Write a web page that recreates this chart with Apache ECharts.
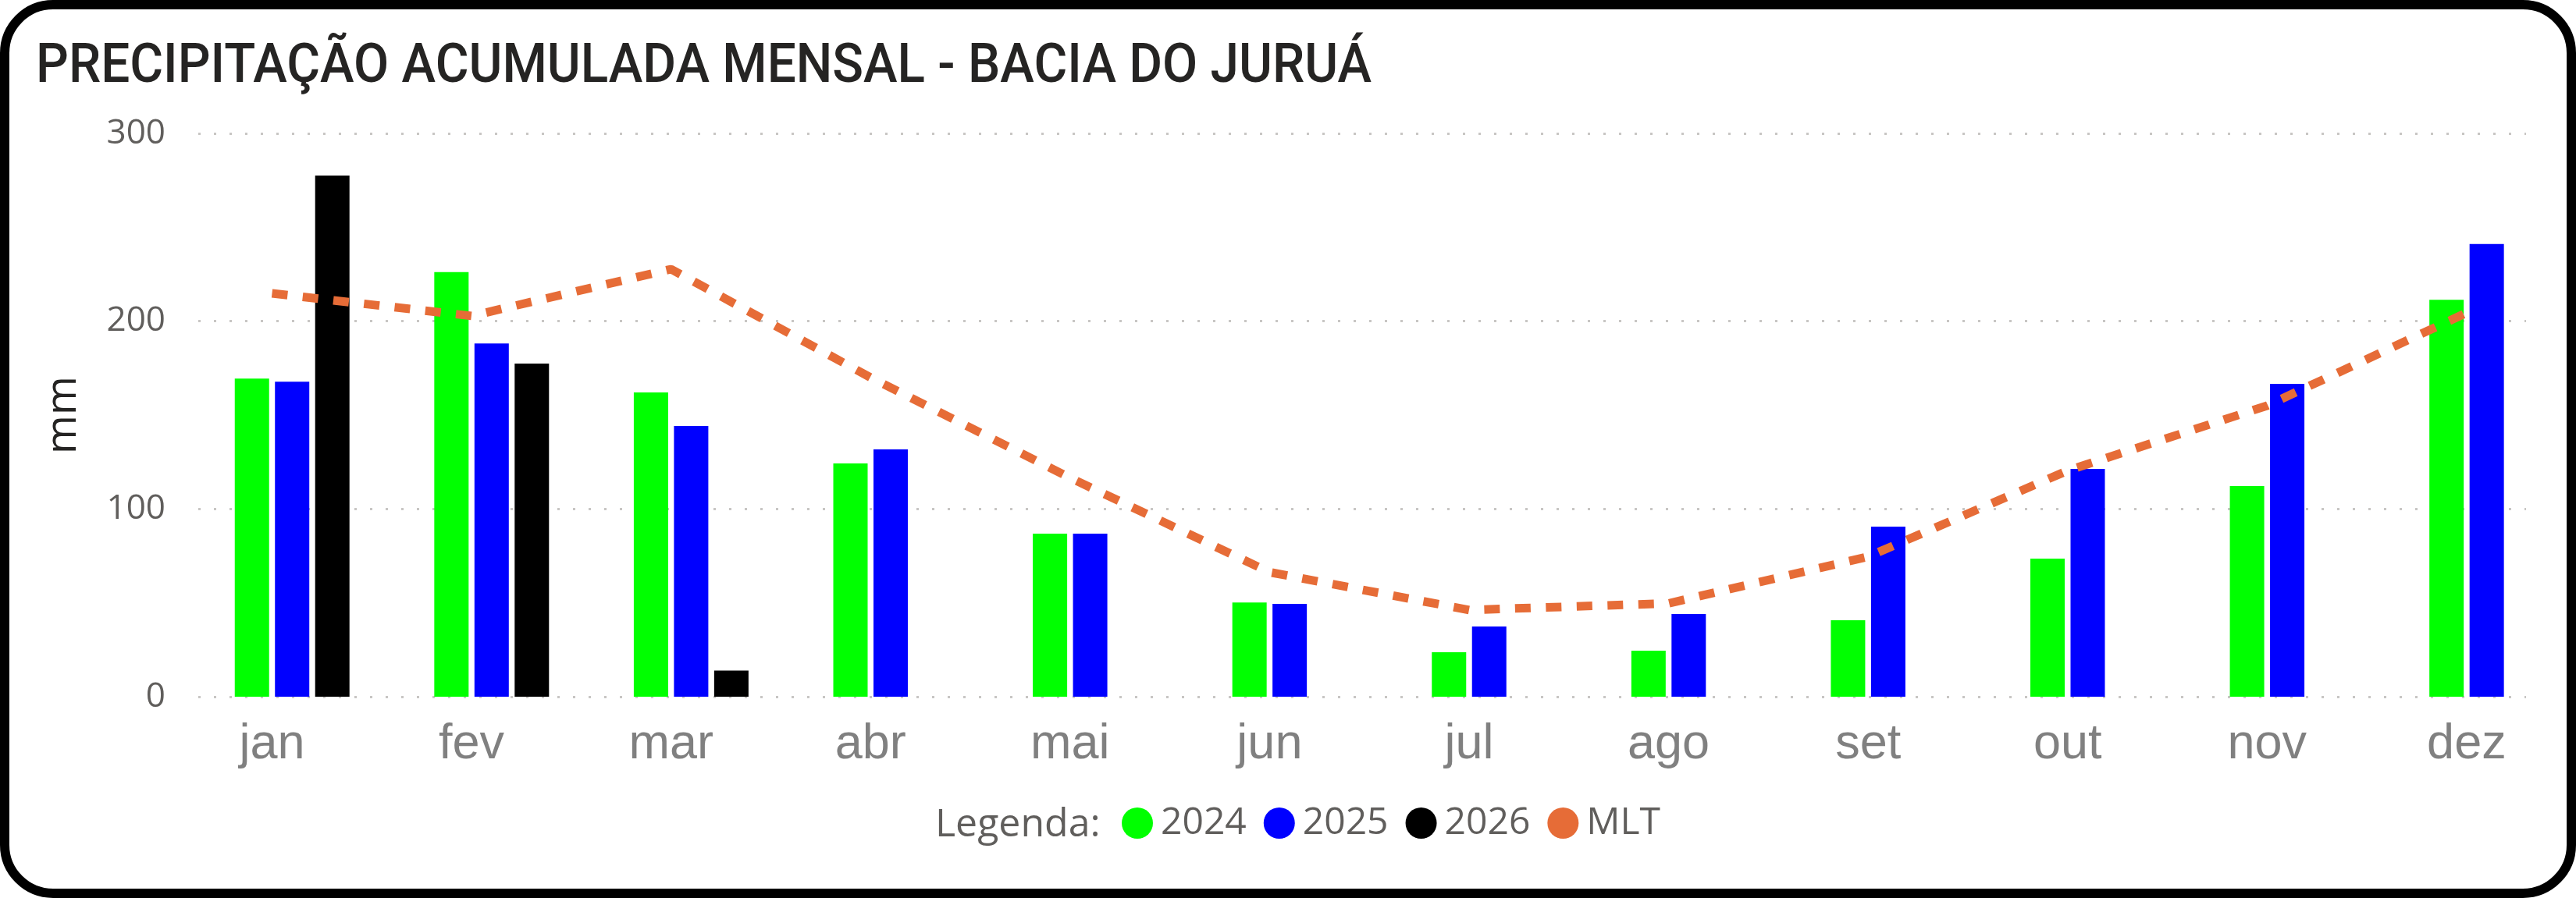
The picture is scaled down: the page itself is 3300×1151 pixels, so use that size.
<!DOCTYPE html>
<html>
<head>
<meta charset="utf-8">
<script src="https://cdn.jsdelivr.net/npm/echarts@6/dist/echarts.min.js"></script>
<style>
html,body{margin:0;padding:0;background:#fff;}
#chart{width:3300px;height:1151px;}
</style>
</head>
<body>
<div id="chart"></div>
<script>
// ---- data ----
const titleText = 'PRECIPITAÇÃO ACUMULADA MENSAL - BACIA DO JURUÁ';
const months = ['jan','fev','mar','abr','mai','jun','jul','ago','set','out','nov','dez'];
const s2024 = [169.4, 226.1, 162.0, 124.2, 86.8, 50.2, 23.7, 24.5, 40.7, 73.5, 112.2, 211.4];
const s2025 = [167.8, 188.1, 144.2, 131.7, 86.8, 49.4, 37.4, 44.0, 90.6, 121.3, 166.6, 241.1];
const s2026 = [277.6, 177.4, 13.9, null, null, null, null, null, null, null, null, null];
const mlt   = [214.8, 202.8, 227.7, 170.0, 116.6, 66.3, 46.2, 49.7, 74.6, 120.4, 155.0, 204.5];
const yMin = 0, yMax = 300, yStep = 100;
const legendNames = ['2024', '2025', '2026', 'MLT'];

// ---- styles ----
const C2024 = '#00FF00', C2025 = '#0000FF', C2026 = '#000000', CMLT = '#E66C37';

const chart = echarts.init(document.getElementById('chart'));

// measure title to fit a condensed look
const ctx = document.createElement('canvas').getContext('2d');
const titleFont = '500 70px Roboto';
ctx.font = titleFont;
const tw = ctx.measureText(titleText).width;
const titleScale = 1711 / tw;

const option = {
  backgroundColor: '#ffffff',
  animation: false,
  grid: [
    {left: 254, right: 64, top: 171, bottom: 258},
    {left: 220.7, width: 3067, top: 171, bottom: 258}
  ],
  xAxis: [
    {gridIndex: 0, type: 'value', min: 0, max: 1, show: false},
    {gridIndex: 1, type: 'category', data: months,
     axisLine: {show: false}, axisTick: {show: false},
     axisLabel: {fontFamily: 'Liberation Sans', fontSize: 63, color: '#808080', margin: 30}}
  ],
  yAxis: [
    {gridIndex: 0, type: 'value', min: yMin, max: yMax, interval: yStep,
     name: 'mm', nameLocation: 'middle', nameGap: 145, nameRotate: 90,
     nameTextStyle: {fontFamily: 'Open Sans', fontSize: 54, color: '#252423'},
     axisLine: {show: false}, axisTick: {show: false},
     axisLabel: {fontFamily: 'Open Sans', fontSize: 44, color: '#605E5C', margin: 42},
     splitLine: {show: true, lineStyle: {color: '#C8C6C4', width: 3, type: [3, 17]}}},
    {gridIndex: 1, type: 'value', min: yMin, max: yMax, interval: yStep, show: false,
     splitLine: {show: false}}
  ],
  legend: {
    data: legendNames.map(n => ({name: n, icon: 'circle'})),
    left: 1432, top: 1026, itemWidth: 40, itemHeight: 40, itemGap: 22,
    selectedMode: false,
    textStyle: {fontFamily: 'Open Sans', fontSize: 48, color: '#605E5C', padding: [0, 0, 0, 5]}
  },
  series: [
    {type: 'bar', name: '_slot', xAxisIndex: 1, yAxisIndex: 1, data: months.map(() => null),
     barWidth: 44, barGap: '17%', silent: true},
    {type: 'bar', name: '2024', xAxisIndex: 1, yAxisIndex: 1, data: s2024,
     barWidth: 44, barGap: '17%', itemStyle: {color: C2024}},
    {type: 'bar', name: '2025', xAxisIndex: 1, yAxisIndex: 1, data: s2025,
     barWidth: 44, barGap: '17%', itemStyle: {color: C2025}},
    {type: 'bar', name: '2026', xAxisIndex: 1, yAxisIndex: 1, data: s2026,
     barWidth: 44, barGap: '17%', itemStyle: {color: C2026}},
    {type: 'line', name: 'MLT', xAxisIndex: 1, yAxisIndex: 1, data: mlt,
     symbol: 'none', z: 5, itemStyle: {color: CMLT},
     lineStyle: {color: CMLT, width: 11, type: [20, 19.5], cap: 'butt'}}
  ],
  graphic: [
    {type: 'text', left: 46, top: 52, scaleX: titleScale, z: 10,
     style: {text: titleText, font: titleFont, fill: '#252423'}},
    {type: 'text', left: 1198, top: 1033, z: 10,
     style: {text: 'Legenda:', fontFamily: 'Open Sans', fontSize: 50, fill: '#605E5C'}},
    {type: 'rect', z: 20, silent: true,
     shape: {x: 6, y: 6, width: 3288, height: 1139, r: 62},
     style: {fill: 'none', stroke: '#000000', lineWidth: 12}}
  ]
};
chart.setOption(option);
</script>
</body>
</html>
